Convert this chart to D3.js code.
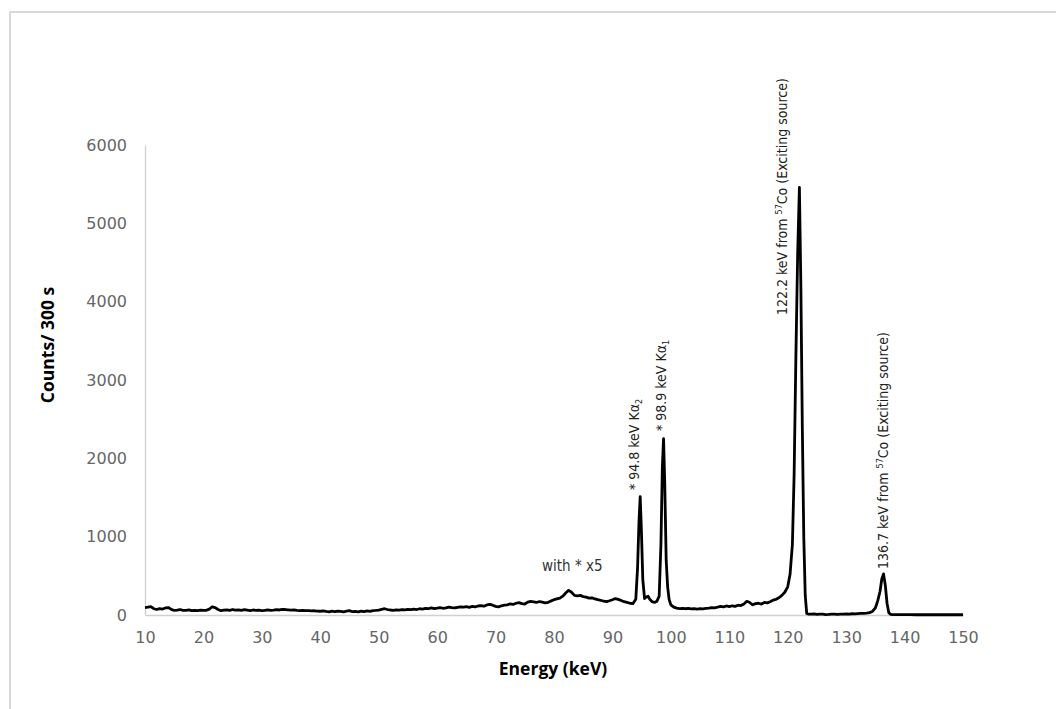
<!DOCTYPE html>
<html>
<head>
<meta charset="utf-8">
<script src="https://cdn.jsdelivr.net/npm/d3@7"></script>
<style>
  body { margin: 0; background: #fff; }
  svg { display: block; }
</style>
</head>
<body>
<svg id="chart"></svg>
<script>
// energy (keV) of each channel
const energy = [
  10.0,10.5,11.0,11.5,12.0,12.5,13.0,13.5,14.0,14.5,15.0,15.5,16.0,16.5,17.0,17.5,18.0,18.5,19.0,19.5,
  20.0,20.5,21.0,21.5,22.0,22.5,23.0,23.5,24.0,24.5,25.0,25.5,26.0,26.5,27.0,27.5,28.0,28.5,29.0,29.5,
  30.0,30.5,31.0,31.5,32.0,32.5,33.0,33.5,34.0,34.5,35.0,35.5,36.0,36.5,37.0,37.5,38.0,38.5,39.0,39.5,
  40.0,40.5,41.0,41.5,42.0,42.5,43.0,43.5,44.0,44.5,45.0,45.5,46.0,46.5,47.0,47.5,48.0,48.5,49.0,49.5,
  50.0,50.5,51.0,51.5,52.0,52.5,53.0,53.5,54.0,54.5,55.0,55.5,56.0,56.5,57.0,57.5,58.0,58.5,59.0,59.5,
  60.0,60.5,61.0,61.5,62.0,62.5,63.0,63.5,64.0,64.5,65.0,65.5,66.0,66.5,67.0,67.5,68.0,68.5,69.0,69.5,
  70.0,70.5,71.0,71.5,72.0,72.5,73.0,73.5,74.0,74.5,75.0,75.5,76.0,76.5,77.0,77.5,78.0,78.5,79.0,79.5,
  80.0,80.5,81.0,81.5,82.0,82.5,83.0,83.5,84.0,84.5,85.0,85.5,86.0,86.5,87.0,87.5,88.0,88.5,89.0,89.5,
  90.0,90.5,91.0,91.5,92.0,92.5,93.0,93.5,94.0,94.3,94.55,94.75,94.95,95.2,95.5,95.8,96.1,96.4,96.8,97.2,
  97.6,98.0,98.3,98.55,98.75,98.95,99.2,99.45,99.7,100.0,100.5,101.0,101.5,102.0,102.5,103.0,103.5,104.0,104.5,105.0,
  105.5,106.0,106.5,107.0,107.5,108.0,108.5,109.0,109.5,110.0,110.5,111.0,111.5,112.0,112.5,113.0,113.5,114.0,114.5,115.0,
  115.5,116.0,116.5,117.0,117.5,118.0,118.5,119.0,119.5,120.0,120.4,120.8,121.1,121.4,121.7,122.0,122.25,122.5,122.75,123.0,
  123.25,123.5,124.0,124.5,125.0,125.5,126.0,126.5,127.0,127.5,128.0,128.5,129.0,129.5,130.0,130.5,131.0,131.5,132.0,132.5,
  133.0,133.5,134.0,134.5,135.0,135.4,135.8,136.1,136.4,136.7,137.0,137.3,137.6,138.0,139.0,140.0,141.0,142.0,143.0,144.0,
  145.0,146.0,147.0,148.0,149.0,150.0
];

// counts per 300 s at each energy above
const counts = [
  95,100,108,80,70,82,76,90,95,72,58,62,70,60,58,64,56,60,55,62,
  58,60,75,105,95,70,55,62,66,58,70,62,65,58,68,62,55,64,58,62,
  55,60,66,58,62,68,64,72,70,66,62,64,58,56,58,55,56,52,54,50,
  48,52,45,40,48,42,50,46,40,48,55,42,46,40,50,44,52,46,55,58,
  62,72,80,70,64,60,66,62,70,65,72,68,75,70,80,76,85,80,90,82,
  88,95,86,92,100,94,90,98,105,100,106,98,110,104,115,120,112,128,136,125,
  110,104,118,125,130,142,135,150,158,145,140,165,175,168,160,172,165,155,162,180,
  195,205,215,240,280,315,290,250,245,250,235,228,215,220,205,195,188,176,170,182,
  195,210,200,185,170,160,150,145,200,600,1200,1510,1100,450,210,230,240,200,170,160,
  175,240,900,1900,2250,1700,700,360,200,130,100,88,82,85,80,84,78,82,76,80,
  78,84,88,95,92,100,110,105,115,108,118,110,125,120,140,175,160,130,145,150,
  140,160,155,170,190,200,220,250,290,360,520,900,1800,3300,4600,5460,4200,2400,1000,250,
  20,12,10,14,8,12,10,6,8,12,10,8,12,10,14,12,16,14,18,20,
  22,25,30,45,90,180,300,460,525,380,150,30,8,5,4,4,4,3,4,3,
  3,4,3,3,4,3
];

const xTicks = [10, 20, 30, 40, 50, 60, 70, 80, 90, 100, 110, 120, 130, 140, 150];
const yTicks = [0, 1000, 2000, 3000, 4000, 5000, 6000];

const [w, h] = [1056, 709];
const plot = {left: 145, right: 963, top: 145, bottom: 615};

const svg = d3.select("#chart").attr("width", w).attr("height", h);
svg.append("rect").attr("width", w).attr("height", h).attr("fill", "#fff");

// outer chart frame (cut off at right and bottom in the picture)
svg.append("rect")
  .attr("x", 10).attr("y", 12)
  .attr("width", 1200).attr("height", 900)
  .attr("fill", "none").attr("stroke", "#d9d9d9").attr("stroke-width", 2);

const xScale = d3.scaleLinear().domain([10, 150]).range([plot.left, plot.right]);
const yScale = d3.scaleLinear().domain([0, 6000]).range([plot.bottom, plot.top]);

const tickFont = "'DejaVu Sans', Verdana, sans-serif";

const xAxis = d3.axisBottom(xScale).tickValues(xTicks).tickSize(0).tickPadding(17).tickFormat(d3.format("d"));
const yAxis = d3.axisLeft(yScale).tickValues(yTicks).tickSize(0).tickPadding(18).tickFormat(d3.format("d"));

const gx = svg.append("g").attr("transform", `translate(0, ${plot.bottom})`).call(xAxis);
const gy = svg.append("g").attr("transform", `translate(${plot.left}, 0)`).call(yAxis);

[gx, gy].forEach(g => {
  g.select(".domain").attr("stroke", "#d0d0d0").attr("stroke-width", 1.3);
  g.selectAll("text")
    .attr("fill", "#666")
    .style("font-family", tickFont)
    .style("font-size", "16px");
});

// axis titles
svg.append("text")
  .attr("x", 553).attr("y", 675)
  .attr("text-anchor", "middle")
  .style("font-family", "'Open Sans', sans-serif")
  .style("font-weight", "bold")
  .style("font-size", "17.5px")
  .attr("fill", "#000")
  .text("Energy (keV)");

svg.append("text")
  .attr("transform", "translate(54, 345) rotate(-90)")
  .attr("text-anchor", "middle")
  .style("font-family", "'Open Sans', sans-serif")
  .style("font-weight", "bold")
  .style("font-size", "17.5px")
  .attr("fill", "#000")
  .text("Counts/ 300 s");

// spectrum
const spectrum = energy.map((e, i) => ({e: e, c: counts[i]}));
const line = d3.line().x(d => xScale(d.e)).y(d => yScale(d.c));

svg.append("path")
  .datum(spectrum)
  .attr("d", line)
  .attr("fill", "none")
  .attr("stroke", "#000")
  .attr("stroke-width", 2.8)
  .attr("stroke-linejoin", "round");

// peak labels
const labelFont = "'Liberation Sans Narrow', 'DejaVu Sans Condensed', 'Noto Sans', sans-serif";

svg.append("text")
  .attr("x", 542).attr("y", 571)
  .style("font-family", labelFont)
  .style("font-size", "15px")
  .attr("fill", "#333")
  .text("with * x5");

function vlabel(x, y, parts) {
  const t = svg.append("text")
    .attr("transform", `translate(${x}, ${y}) rotate(-90)`)
    .style("font-family", labelFont)
    .style("font-size", "14px")
    .attr("fill", "#222");
  parts.forEach(p => {
    const s = t.append("tspan").text(p.t);
    if (p.sup) s.style("font-size", "9px").attr("dy", -5);
    if (p.sub) s.style("font-size", "9px").attr("dy", 3);
    if (p.back) s.attr("dy", p.back);
  });
}

vlabel(639, 490, [{t: "* 94.8 keV K\u03b1"}, {t: "2", sub: true}]);
vlabel(666, 431, [{t: "* 98.9 keV K\u03b1"}, {t: "1", sub: true}]);
vlabel(787, 315, [{t: "122.2 keV from "}, {t: "57", sup: true}, {t: "Co (Exciting source)", back: 5}]);
vlabel(888, 569, [{t: "136.7 keV from "}, {t: "57", sup: true}, {t: "Co (Exciting source)", back: 5}]);
</script>
</body>
</html>
